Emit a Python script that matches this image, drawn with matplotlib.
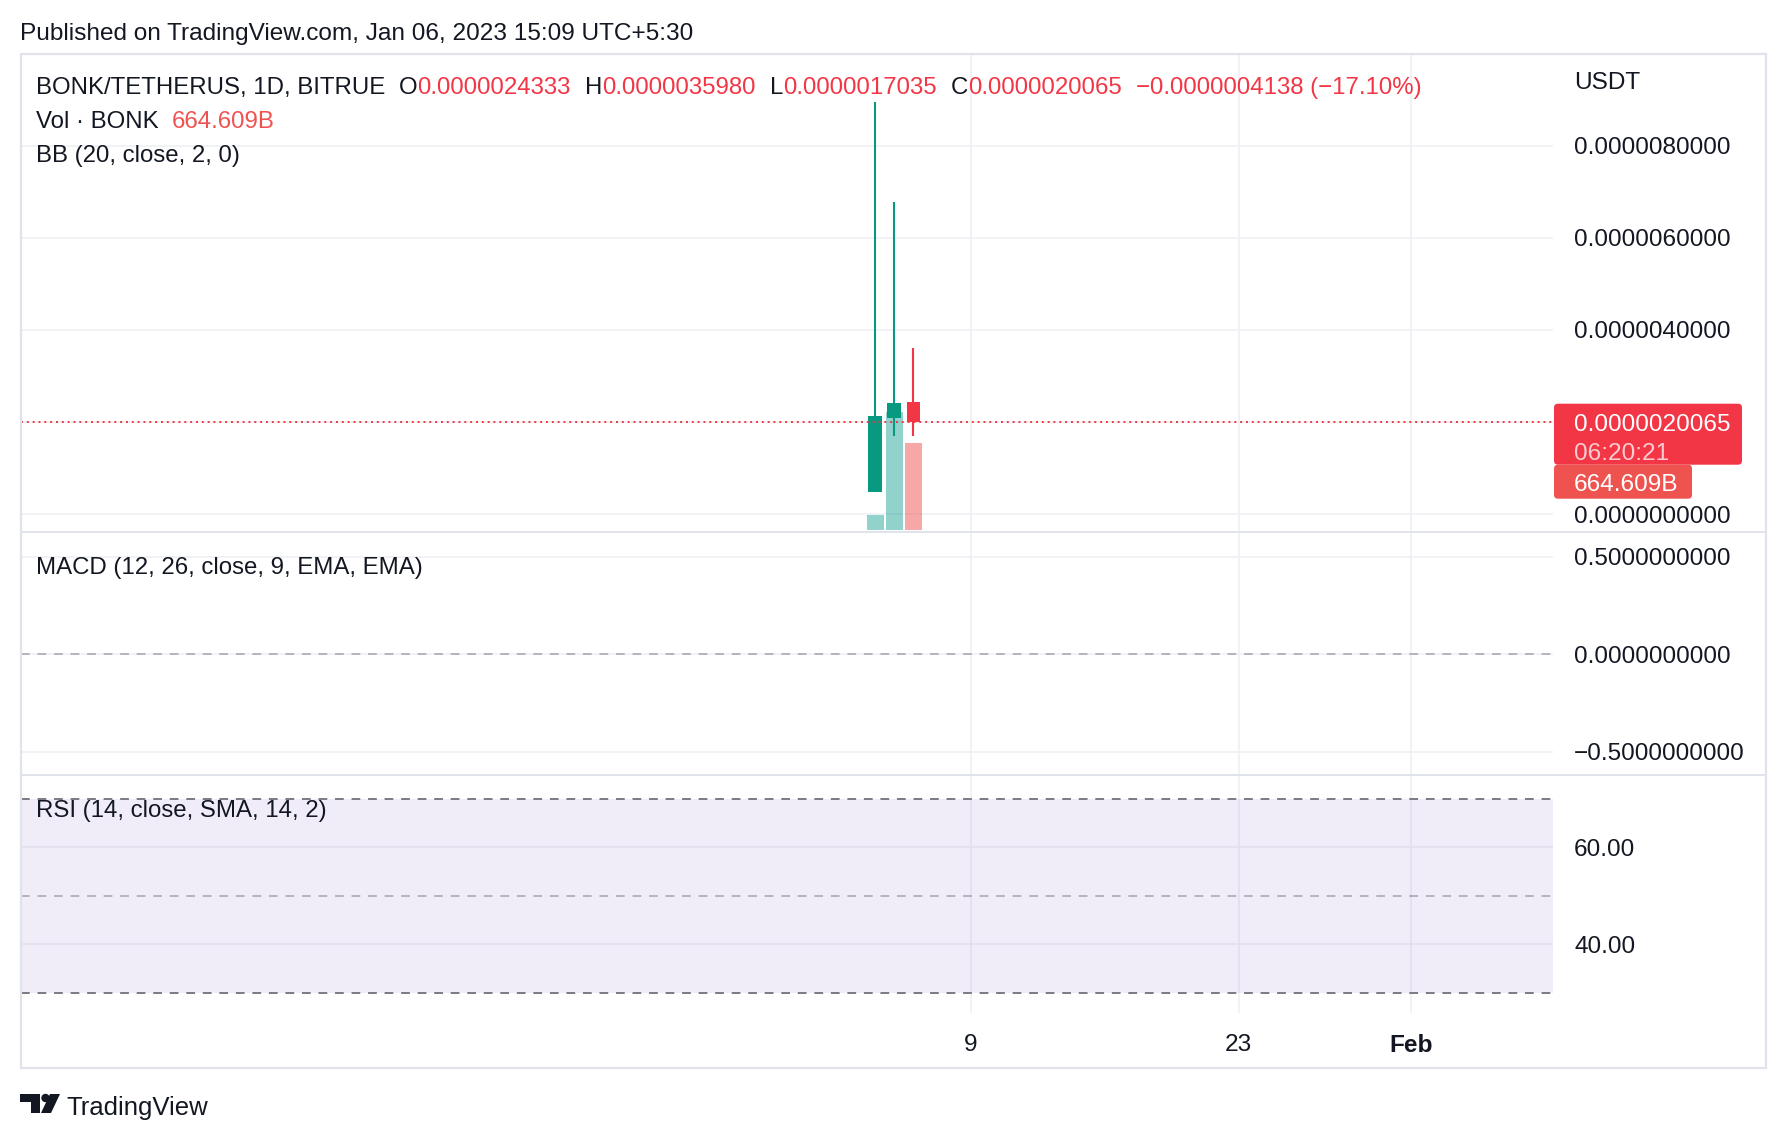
import matplotlib
matplotlib.use('Agg')
import matplotlib.pyplot as plt
import matplotlib.dates as mdates
import matplotlib.transforms as mtransforms
from matplotlib.patches import FancyBboxPatch, Polygon, Circle, Rectangle
from matplotlib.lines import Line2D
import numpy as np

W, H = 1786, 1140
plt.rcParams['font.family'] = ['Liberation Sans', 'DejaVu Sans']

# data
dates = ['2023-01-04', '2023-01-05', '2023-01-06']
opens = [0.48e-6, 2.09e-6, 2.4333e-6]
highs = [8.96e-6, 6.78e-6, 3.598e-6]
lows = [0.48e-6, 1.70e-6, 1.7035e-6]
closes = [2.13e-6, 2.4203e-6, 2.0065e-6]
volumes = [114e9, 901e9, 664.609e9]

price_ticks = [0, 2e-6, 4e-6, 6e-6, 8e-6]
price_labels = ['0.0000000000', '', '0.0000040000', '0.0000060000', '0.0000080000']
macd_ticks = [-0.5, 0, 0.5]
macd_labels = ['\u22120.5000000000', '0.0000000000', '0.5000000000']
rsi_ticks = [40, 60]
rsi_labels = ['40.00', '60.00']
rsi_upper, rsi_mid, rsi_lower = 70, 50, 30
date_ticks = ['2023-01-09', '2023-01-23', '2023-02-01']
date_labels = ['9', '23', 'Feb']
countdown = '06:20:21'

TEXT = '#131722'
RED = '#f23645'
GREEN = '#089981'
VGREEN = '#26a69a'
VRED = '#ef5350'
GRID = '#eef0f4'
BORDER = '#e0e3eb'
FS = 17.6
LFS = 17.25  # legend rows
DY = 3  # baseline nudge for centred text

fig = plt.figure(figsize=(W / 100, H / 100), dpi=100)
fig_px = mtransforms.Affine2D().scale(1, -1).translate(0, H)


def px_axes(x0, y0, x1, y1):
    return fig.add_axes([x0 / W, 1 - y1 / H, (x1 - x0) / W, (y1 - y0) / H])


PL, PR = 20.5, 1552.5
ax = px_axes(PL, 53.5, PR, 532)
ax_macd = px_axes(PL, 532, PR, 774.6)
ax_rsi = px_axes(PL, 774.6, PR, 1013)

x = mdates.datestr2num(dates)
xt = mdates.datestr2num(date_ticks)
x_anchor = mdates.datestr2num('2023-01-09')

for a in (ax, ax_macd, ax_rsi):
    a.set_xlim(x_anchor - 49.65, x_anchor + 30.39)
    a.set_facecolor('none')
    for s in a.spines.values():
        s.set_visible(False)
    a.set_xticks(xt)
    a.grid(True, color=GRID, lw=1.2)
    a.set_axisbelow(True)
    a.yaxis.tick_right()
    a.tick_params(length=0, labelsize=FS, labelcolor=TEXT, pad=15.5)
    a.tick_params(axis='x', labelbottom=False)

# main pane
ax.set_ylim(-0.391e-6, 10.01e-6)
ax.set_yticks(price_ticks, price_labels)

up = [c >= o for o, c in zip(opens, closes)]
ccol = [GREEN if u else RED for u in up]
vcol = [VGREEN if u else VRED for u in up]

vol_lo, vol_hi = -15e9, 3628e9
vol_tf = mtransforms.Affine2D().scale(1, 1 / (vol_hi - vol_lo)).translate(0, -vol_lo / (vol_hi - vol_lo))
vol_trans = mtransforms.blended_transform_factory(ax.transData, vol_tf + ax.transAxes)
ax.bar(x, volumes, width=0.89, color=vcol, alpha=0.5, transform=vol_trans, zorder=2)

ax.vlines(x, lows, highs, colors=ccol, lw=1.5, zorder=3)
ax.bar(x, np.array(closes) - np.array(opens), bottom=opens, width=0.715, color=ccol, zorder=4)
ax.axhline(closes[-1], color=RED, lw=1.4, ls=(0, (1, 2)), zorder=5)
ax.set_xlim(x_anchor - 49.65, x_anchor + 30.39)
ax.set_ylim(-0.391e-6, 10.01e-6)

# macd pane
ax_macd.set_ylim(-0.618, 0.626)
ax_macd.set_yticks(macd_ticks, macd_labels)
ax_macd.axhline(0, color='#b2b5be', lw=1.4, ls=(0, (4.5, 4)))

# rsi pane
ax_rsi.set_ylim(25.8, 75.0)
ax_rsi.set_yticks(rsi_ticks, rsi_labels)
ax_rsi.axhspan(rsi_lower, rsi_upper, color='#7e57c2', alpha=0.1, lw=0)
ax_rsi.axhline(rsi_upper, color='#787b86', lw=1.4, ls=(0, (4.5, 4)))
ax_rsi.axhline(rsi_lower, color='#787b86', lw=1.4, ls=(0, (4.5, 4)))
ax_rsi.axhline(rsi_mid, color='#787b86', alpha=0.5, lw=1.4, ls=(0, (4.5, 4)))
ax_rsi.tick_params(axis='x', labelbottom=True, pad=15)
ax_rsi.set_xticklabels(date_labels)
ax_rsi.get_xticklabels()[-1].set_fontweight('bold')

# frame and separators
fig.add_artist(Rectangle((20.5, 53.5), 1745, 1014.5, fill=False, ec=BORDER, lw=1.6, transform=fig_px))
for yy in (532, 774.6):
    fig.add_artist(Line2D([20.5, 1765.5], [yy, yy], color=BORDER, lw=1.4, transform=fig_px))

renderer = fig.canvas.get_renderer()


def draw_row(x0, y0, parts, size=LFS):
    for s, color, gap in parts:
        t = fig.text(x0, y0 + DY, s, color=color, fontsize=size, va='center', transform=fig_px)
        x0 += t.get_window_extent(renderer).width + gap


chg = closes[-1] - closes[-2]
pct = chg / closes[-2] * 100
sign = '\u2212' if chg < 0 else '+'
draw_row(36.5, 85.4, [
    ('BONK/TETHERUS, 1D, BITRUE', TEXT, 13),
    ('O', TEXT, 0), (f'{opens[-1]:.10f}', RED, 14),
    ('H', TEXT, 0), (f'{highs[-1]:.10f}', RED, 14),
    ('L', TEXT, 0), (f'{lows[-1]:.10f}', RED, 14),
    ('C', TEXT, 0), (f'{closes[-1]:.10f}', RED, 14),
    (f'{sign}{abs(chg):.10f} ({sign}{abs(pct):.2f}%)', RED, 0),
])
vol_txt = f'{volumes[-1] / 1e9:.3f}B'
draw_row(36.5, 118.5, [('Vol \u00b7 BONK', TEXT, 13), (vol_txt, VRED, 0)])
draw_row(36.5, 152.6, [('BB (20, close, 2, 0)', TEXT, 0)])
draw_row(36.5, 565, [('MACD (12, 26, close, 9, EMA, EMA)', TEXT, 0)])
draw_row(36.5, 807.6, [('RSI (14, close, SMA, 14, 2)', TEXT, 0)])

fig.text(20.5, 30.8 + DY, 'Published on TradingView.com, Jan 06, 2023 15:09 UTC+5:30',
         color=TEXT, fontsize=FS, va='center', transform=fig_px)
fig.text(1574, 80 + DY, 'USDT', color=TEXT, fontsize=FS, va='center', transform=fig_px)

# last price labels on the price scale
yc = H - ax.transData.transform((x[-1], closes[-1]))[1]
fig.add_artist(FancyBboxPatch((1554, yc - 18), 188, 61, boxstyle='round,pad=0,rounding_size=4',
                              fc=RED, ec='none', transform=fig_px))
fig.add_artist(FancyBboxPatch((1554, yc + 43), 138, 34, boxstyle='round,pad=0,rounding_size=4',
                              fc=VRED, ec='none', transform=fig_px))
fig.text(1574, yc + DY, f'{closes[-1]:.10f}', color='white', fontsize=FS, va='center', transform=fig_px)
fig.text(1574, yc + 29 + DY, countdown, color='white', alpha=0.75, fontsize=FS, va='center',
         transform=fig_px)
fig.text(1574, yc + 60 + DY, vol_txt, color='white', fontsize=FS, va='center', transform=fig_px)

# footer logo
fig.add_artist(Polygon([(20, 1094), (40, 1094), (40, 1113), (31, 1113), (31, 1102), (20, 1102)],
                       closed=True, fc=TEXT, ec='none', transform=fig_px))
fig.add_artist(Circle((45.5, 1098), 4.2, fc=TEXT, ec='none', transform=fig_px))
fig.add_artist(Polygon([(50, 1094), (60, 1094), (51, 1113), (41, 1113)],
                       closed=True, fc=TEXT, ec='none', transform=fig_px))
fig.text(66, 1105 + DY, 'TradingView', color=TEXT, fontsize=18.5, va='center', transform=fig_px)

fig.savefig('out.png', dpi=100, facecolor='white')
